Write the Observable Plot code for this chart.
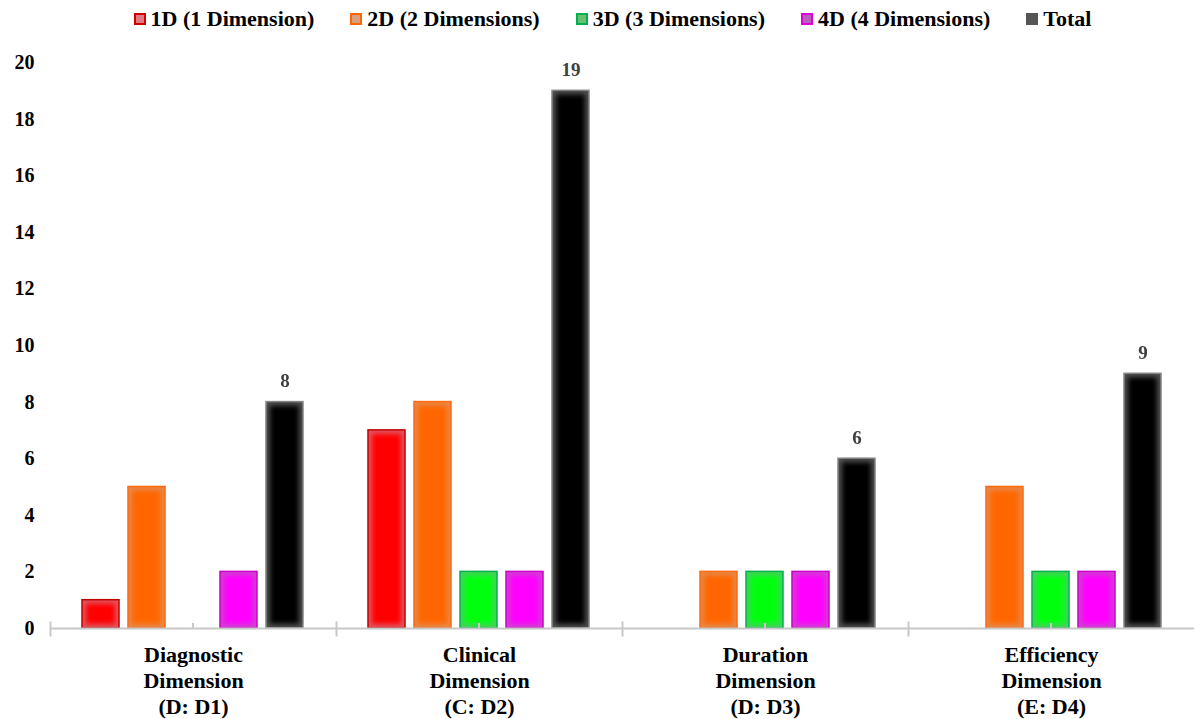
<!DOCTYPE html>
<html>
<head>
<meta charset="utf-8">
<script src="https://cdn.jsdelivr.net/npm/d3@7"></script>
<script src="https://cdn.jsdelivr.net/npm/@observablehq/plot@0.6"></script>
<style>
  body { margin: 0; background: #fff; }
  #legend { height: 38px; display: flex; justify-content: center; align-items: center; gap: 36px;
            font-family: "Liberation Serif", "Times New Roman", serif; font-weight: bold; font-size: 22px; color: #000; padding-left: 30px; box-sizing: border-box; width: 1195px; }
  .item { display: flex; align-items: center; }
  .sw { width: 12px; height: 12px; box-sizing: border-box; border: 2px solid; margin-right: 5px; }
</style>
</head>
<body>
<div id="legend"></div>
<div id="chart"></div>
<script>
const categories = ["Diagnostic\nDimension\n(D: D1)", "Clinical\nDimension\n(C: D2)", "Duration\nDimension\n(D: D3)", "Efficiency\nDimension\n(E: D4)"];
const series = ["1D (1 Dimension)", "2D (2 Dimensions)", "3D (3 Dimensions)", "4D (4 Dimensions)", "Total"];
const values1D = [1, 7, 0, 0];
const values2D = [5, 8, 2, 5];
const values3D = [0, 2, 2, 2];
const values4D = [2, 2, 2, 2];
const valuesTotal = [8, 19, 6, 9];
const yTicks = [0, 2, 4, 6, 8, 10, 12, 14, 16, 18, 20];

const mainColors = ["#ff0000", "#ff6600", "#00ff10", "#ff00ff", "#000000"];
const edgeColors = ["#e05560", "#e88848", "#48d060", "#d040d0", "#505050"];
const strokeColors = ["#c00000", "#ff6a10", "#00b050", "#cc00cc", "#8a8a8a"];
const legendFills = ["#e07a82", "#d8a07e", "#66c070", "#b860b8", "#555555"];
const legendStrokes = ["#d00000", "#ff6600", "#00b050", "#dd00dd", "#555555"];

const allValues = [values1D, values2D, values3D, values4D, valuesTotal];
const rows = [];
series.forEach((s, si) => {
  categories.forEach((c, ci) => {
    const v = allValues[si][ci];
    if (v > 0) rows.push({series: s, si, category: c, value: v});
  });
});
const totals = rows.filter(d => d.series === "Total");

// legend
const legend = d3.select("#legend");
series.forEach((s, i) => {
  const it = legend.append("div").attr("class", "item");
  it.append("div").attr("class", "sw").style("background", legendFills[i]).style("border-color", legendStrokes[i]);
  it.append("span").text(s);
});

const chart = Plot.plot({
  width: 1195,
  height: 681,
  marginTop: 24,
  marginBottom: 91,
  marginLeft: 48,
  marginRight: 0,
  style: {fontFamily: "'Liberation Serif', 'Times New Roman', serif", fontWeight: "bold", background: "#fff"},
  color: {type: "identity"},
  fx: {domain: categories, padding: 0, axis: null},
  x: {domain: series, paddingInner: 0.19, paddingOuter: 0.66, axis: null},
  y: {domain: [0, 20], ticks: yTicks, tickSize: 0, tickPadding: 16, label: null},
  marks: [
    Plot.axisY({ticks: yTicks, tickSize: 0, tickPadding: 16, label: null, fontSize: 20, fill: "#000"}),
    Plot.barY(rows, {fx: "category", x: "series", y: "value", fill: d => edgeColors[d.si], stroke: d => strokeColors[d.si], strokeWidth: 1.5}),
    Plot.barY(rows, {fx: "category", x: "series", y: "value", fill: d => mainColors[d.si], inset: 4}),
    Plot.ruleY([0], {stroke: "#c8c8c8", strokeWidth: 2}),
    Plot.ruleX([series[2]], {x: d => d, y1: 0, y2: 0, insetTop: -5, stroke: "#c8c8c8", strokeWidth: 2}),
    Plot.frame({anchor: "left", stroke: "#c8c8c8", strokeWidth: 2, insetTop: 560, insetBottom: -7}),
    Plot.text(totals, {fx: "category", x: "series", y: "value", text: d => String(d.value), dy: -21, fill: "#404040", fontSize: 19}),
    Plot.text(categories, {fx: d => d, text: d => d, frameAnchor: "bottom", lineAnchor: "top", dy: 15, lineHeight: 1.18, fontSize: 22, fill: "#000"})
  ]
});
document.getElementById("chart").appendChild(chart);

// soft inner glow on bars
const svg = d3.select(chart);
const defs = svg.insert("defs", ":first-child");
defs.append("filter").attr("id", "softglow").attr("x", "-30%").attr("y", "-10%").attr("width", "160%").attr("height", "120%")
  .append("feGaussianBlur").attr("stdDeviation", 2.5);
const barGroups = svg.selectAll("g[aria-label='bar']").nodes();
if (barGroups.length > 1) d3.select(barGroups[1]).attr("filter", "url(#softglow)");
</script>
</body>
</html>
